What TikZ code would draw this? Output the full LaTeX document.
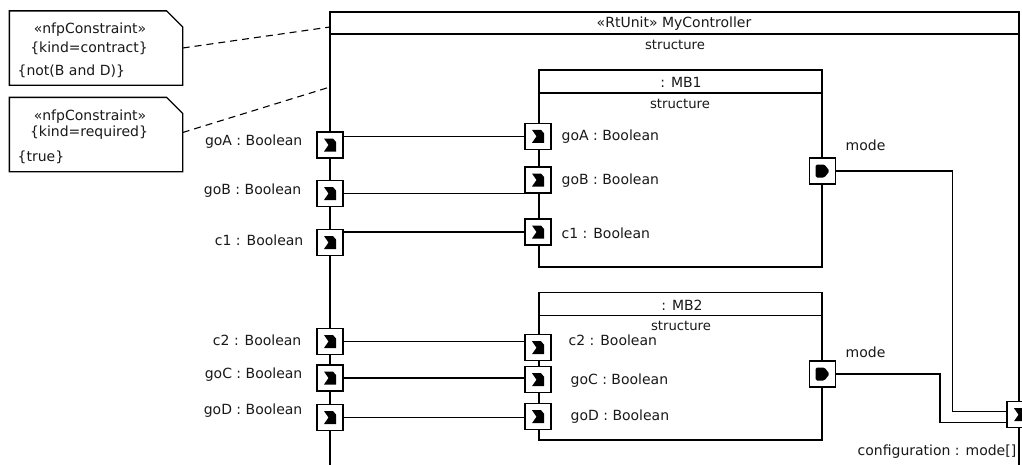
\documentclass[tikz,border=0pt]{standalone}
\usepackage{fontspec}
\setmainfont{DejaVu Sans}
\usetikzlibrary{calc}
\begin{document}
\begin{tikzpicture}[x=1pt,y=-1pt,line width=1.3pt,
  lbl/.style={font=\fontsize{14}{16}\selectfont, inner sep=0pt, text=black!90},
  slbl/.style={font=\fontsize{13.2}{15}\selectfont, inner sep=0pt, text=black!90},
  portbox/.style={draw, fill=white, minimum size=26pt, inner sep=0pt, line width=1.3pt},
  inport/.style={portbox, path picture={\fill[fill=black, shift={(path picture bounding box.center)}] (-6,-6.5) -- (3,-6.5) -- (6,-3) -- (6,6.5) -- (-6,6.5) -- (-1.5,0) -- cycle;}},
  outport/.style={portbox, path picture={\fill[fill=black, shift={(path picture bounding box.center)}, rounded corners=1.5pt] (-7,-6.5) -- (2,-6.5) -- (7,0) -- (2,6.5) -- (-7,6.5) -- cycle;}},
  notebox/.style={minimum width=172pt, minimum height=73pt, inner sep=0pt},
  dashline/.style={dash pattern=on 7pt off 5pt, line width=1.1pt}
]
\useasboundingbox (0,0) rectangle (1022,464);
\clip (0,0) rectangle (1022,464);
\fill[white] (0,0) rectangle (1022,464);

% notes
\node[notebox] (n1) at (96,48) {};
\draw (n1.north west) -- ([xshift=-16pt]n1.north east) -- ([yshift=-16pt]n1.north east) -- (n1.south east) -- (n1.south west) -- cycle;
\node[lbl] (n1a) at (90,30) {«nfpConstraint»};
\node[lbl] (n1b) at (89,48.5) {\{kind=contract\}};
\node[lbl, anchor=west] (n1c) at (17,71) {\{not(B and D)\}};

\node[notebox] (n2) at (96,134.5) {};
\draw (n2.north west) -- ([xshift=-16pt]n2.north east) -- ([yshift=-16pt]n2.north east) -- (n2.south east) -- (n2.south west) -- cycle;
\node[lbl] (n2a) at (90,116.5) {«nfpConstraint»};
\node[lbl] (n2b) at (89,133) {\{kind=required\}};
\node[lbl, anchor=west] (n2c) at (17,157) {\{true\}};

% outer frame
\draw (330,12) rectangle (1019,530);
\draw (330,34) -- (1019,34);
\node[lbl] (title) at (674,24) {«RtUnit» MyController};
\node[slbl] (str0) at (675,45) {structure};
\coordinate (f1) at (330,27);
\coordinate (f2) at (330,87);
\draw[dashline] (n1.east) -- (f1);
\draw[dashline] ([yshift=2pt]n2.east) -- (f2);

% MB1
\draw (539,70) rectangle (822,267);
\draw (539,93) -- (822,93);
\node[lbl] (mb1) at (681,82) {: MB1};
\node[slbl] (str1) at (680,104) {structure};

% MB2
\draw (539,292.7) rectangle (822,440);
\draw (539,315.7) -- (822,315.7);
\node[lbl] (mb2) at (682,305) {: MB2};
\node[slbl] (str2) at (681,326) {structure};

% ports
\node[inport] (oA) at (330,145) {};
\node[inport] (oB) at (330,193.5) {};
\node[inport] (o1) at (330,242.5) {};
\node[inport] (o2) at (330,341.5) {};
\node[inport] (oC) at (330,378) {};
\node[inport] (oD) at (330,417.5) {};

\node[inport] (iA) at (538,136.3) {};
\node[inport] (iB) at (538,180) {};
\node[inport] (i1) at (538,232) {};
\node[inport] (i2) at (538,347.7) {};
\node[inport] (iC) at (538,379.7) {};
\node[inport] (iD) at (538,416.7) {};

\node[outport] (m1) at (822.5,171) {};
\node[outport] (m2) at (822.5,374) {};
\node[inport] (cfg) at (1020,414.7) {};

% connectors
\draw (oA.east |- iA.west) -- (iA.west);
\draw (oB.east) -- (iB.west |- oB.east);
\draw (o1.east |- i1.west) -- (i1.west);
\draw (o2.east) -- (i2.west |- o2.east);
\draw (oC.east) -- (iC.west |- oC.east);
\draw (oD.east) -- (iD.west |- oD.east);
\draw (m1.east) -- ++(116.5,0) |- ([yshift=3pt]cfg.west);
\draw (m2.east) -- ++(103.8,0) |- ([yshift=-8pt]cfg.west);

% outer labels
\node[lbl, anchor=east] (loA) at (303,142) {goA : Boolean};
\node[lbl, anchor=east] (loB) at (302,191) {goB : Boolean};
\node[lbl, anchor=east] (lo1) at (304,240) {c1 : Boolean};
\node[lbl, anchor=east] (lo2) at (302,340) {c2 : Boolean};
\node[lbl, anchor=east] (loC) at (303,375) {goC : Boolean};
\node[lbl, anchor=east] (loD) at (303,411) {goD : Boolean};

% inner labels
\node[lbl, anchor=west] (liA) at (561,137) {goA : Boolean};
\node[lbl, anchor=west] (liB) at (561,181) {goB : Boolean};
\node[lbl, anchor=west] (li1) at (561,233) {c1 : Boolean};
\node[lbl, anchor=west] (li2) at (568,340) {c2 : Boolean};
\node[lbl, anchor=west] (liC) at (570,381) {goC : Boolean};
\node[lbl, anchor=west] (liD) at (570,417) {goD : Boolean};

\node[lbl, anchor=west] (lm1) at (845,145) {mode};
\node[lbl, anchor=west] (lm2) at (845,352) {mode};
\node[lbl, anchor=west] (lcfg) at (857,452) {configuration : mode[]};
\end{tikzpicture}
\end{document}
